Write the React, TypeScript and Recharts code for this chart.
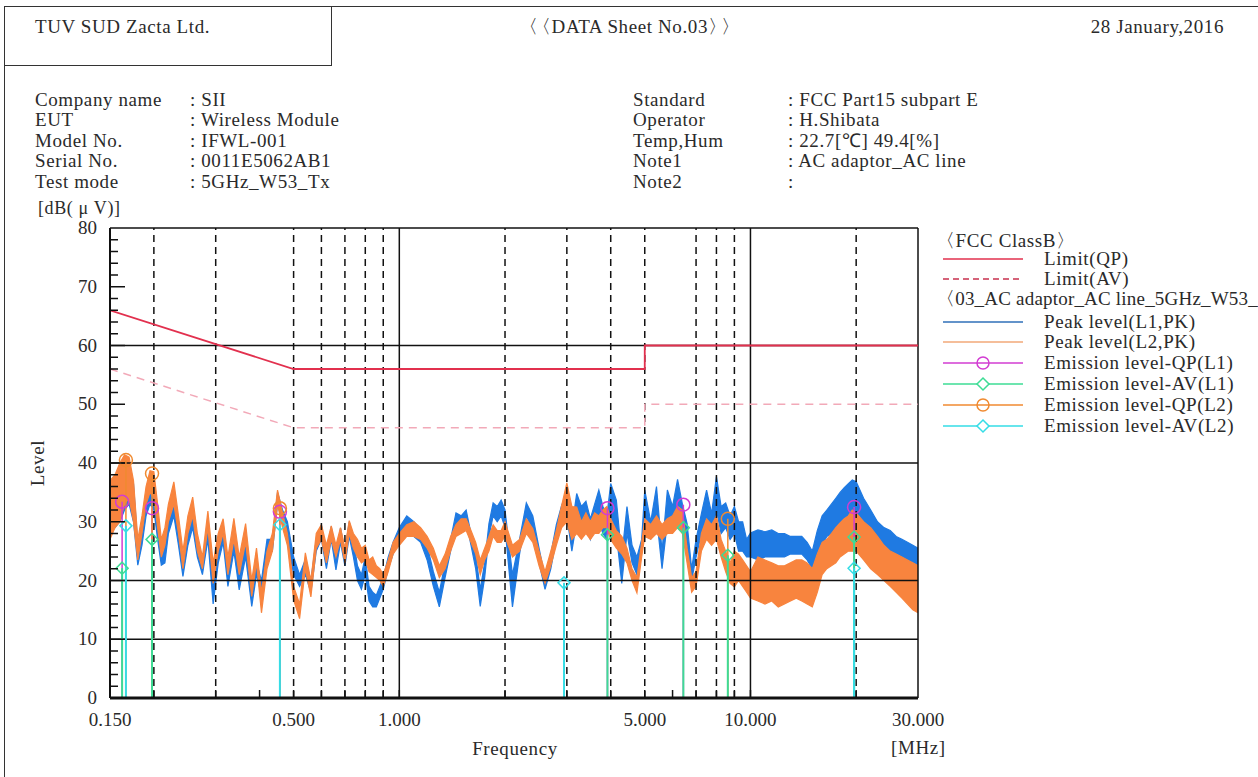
import React from "react"
import { Area, ComposedChart, Line, ReferenceLine, Scatter, XAxis, YAxis } from "recharts"

// spectrum sweep (MHz) and band envelopes, dB(uV)
const freqs = [
  0.15, 0.155, 0.16, 0.165, 0.17, 0.175, 0.18, 0.185, 0.19, 0.195,
  0.2, 0.205, 0.21, 0.215, 0.22, 0.228, 0.235, 0.242, 0.25, 0.258,
  0.266, 0.275, 0.285, 0.295, 0.305, 0.315, 0.325, 0.338, 0.35, 0.365,
  0.38, 0.392, 0.405, 0.42, 0.435, 0.45, 0.465, 0.48, 0.5, 0.52,
  0.54, 0.56, 0.58, 0.6, 0.62, 0.64, 0.66, 0.68, 0.7, 0.72,
  0.74, 0.76, 0.78, 0.8, 0.82, 0.84, 0.86, 0.88, 0.9, 0.93,
  0.96, 1.0, 1.05, 1.1, 1.15, 1.2, 1.25, 1.3, 1.35, 1.4,
  1.45, 1.5, 1.55, 1.6, 1.65, 1.7, 1.75, 1.8, 1.85, 1.9,
  1.95, 2.0, 2.1, 2.2, 2.3, 2.4, 2.5, 2.6, 2.7, 2.8,
  2.9, 3.0, 3.1, 3.2, 3.3, 3.4, 3.5, 3.6, 3.7, 3.8,
  3.9, 4.0, 4.15, 4.3, 4.45, 4.6, 4.75, 4.9, 5.0, 5.2,
  5.4, 5.6, 5.8, 6.0, 6.2, 6.4, 6.6, 6.8, 7.0, 7.25,
  7.5, 7.75, 8.0, 8.25, 8.5, 8.75, 9.0, 9.25, 9.5, 9.75,
  10, 10.5, 11, 11.5, 12, 12.5, 13, 13.5, 14, 14.5,
  15, 15.5, 16, 16.5, 17, 17.5, 18, 18.5, 19, 19.5,
  20, 21, 22, 23, 24, 25, 26, 27, 28, 29,
  30,
]

const peakL1Lo = [
  28, 29, 30, 32, 33, 30, 22.6, 26, 31, 33,
  32, 27, 22.6, 23, 28, 31, 26, 20.7, 26, 29,
  24, 21, 27, 16, 23, 26.5, 19, 25, 18.4, 24,
  15.6, 21, 17.5, 25, 25, 33, 30, 27, 21, 19,
  21, 18, 25, 27, 22, 27, 21.8, 26.5, 22.5, 27.5,
  24, 20, 18.5, 21, 16.5, 15.5, 15.5, 17, 18.5, 22,
  24.5, 27, 28.5, 27.5, 26.5, 23.5, 19, 15.5, 20.5, 25,
  29.5, 29, 30, 26, 22, 15.6, 20.5, 27.5, 31, 30,
  31, 29, 15.5, 24.5, 31, 28.5, 23, 18.5, 22, 27,
  30, 31, 25, 30, 28, 30, 27, 29, 30, 28,
  27, 30, 28, 19.5, 28, 23, 21, 25, 31, 27,
  31, 22, 30, 29, 32, 29, 26, 20, 24, 28,
  31, 28, 32, 28, 29, 27, 28, 25, 25, 24,
  24, 23.5, 24, 24, 24, 24, 24.5, 24.5, 24.5, 23.5,
  22, 24, 26, 27.5, 28, 29, 30, 30.5, 31, 31,
  31, 29.5, 28, 27, 26, 25, 24.5, 24, 23.5, 23,
  22.5,
]
const peakL1Hi = [
  34, 35, 36, 38, 38.5, 36.5, 26, 29, 34, 35.5,
  36, 31, 25, 26, 30.5, 33.7, 29, 23, 29, 31.5,
  26, 23, 30, 19, 25.5, 28.5, 22, 27.5, 21, 26.5,
  18, 23, 20, 27, 27, 35, 32, 30, 24, 21,
  23.6, 20, 27, 29.4, 24, 29.2, 24, 28.9, 25, 30,
  27, 22.5, 21, 24, 19, 18, 17.5, 19, 20.5, 24,
  26.5, 29, 31, 30, 28.6, 26, 21.5, 18, 23, 27,
  31.5, 31, 32, 28, 24.5, 18.5, 23, 29.7, 33.2, 32.6,
  33.7, 32, 21, 27, 33.2, 31, 25.5, 20.5, 24.5, 29.5,
  32.8, 34.8, 29, 34.8, 32.6, 33.5, 30.5, 33, 35.4, 32.6,
  31, 36.5, 33.7, 24, 32.6, 26, 24, 27, 35.4, 30,
  36, 25, 35.4, 32.6, 37.2, 33, 29.7, 22, 27, 31.4,
  35.4, 31.4, 37.7, 32.6, 33.2, 31, 32.6, 30, 30, 27,
  28.1, 28.6, 28.3, 28.6, 28, 28, 27.5, 27.5, 27.5, 26.5,
  25, 28.5, 31, 32, 33, 34, 35, 35.8, 36.5, 37.1,
  36.8, 34, 32, 30, 29, 28.5, 27.5, 27, 26.5, 26,
  25.5,
]
const peakL2Lo = [
  27, 29, 30, 33, 34, 30, 23.5, 28, 33, 35,
  34, 29, 24, 26, 30, 33, 28, 22, 28, 31,
  25, 22, 29, 19.5, 25, 28, 21, 27, 21, 26.5,
  17.3, 23, 14.5, 22, 25, 33, 29, 26, 16.7, 13.5,
  22, 17.2, 25.5, 27, 23, 27, 24, 27, 23, 28,
  25.5, 24, 23, 23.5, 21.5, 21, 20.5, 20, 19, 21.5,
  24.5, 26, 27.5, 27.5, 27, 25.5, 23.5, 20.5, 22, 25,
  27.5, 28, 28.5, 26.5, 24.5, 21, 23.5, 25, 27.5, 26.5,
  26.5, 27.5, 24, 25, 28, 26.5, 22.5, 19.5, 22.5, 26,
  29, 30, 27, 28, 27, 28, 27, 28, 28, 29,
  29, 27, 25.5, 24.5, 23, 20, 17.9, 24, 27.5, 27,
  28, 27, 28, 28, 29, 28, 23, 18, 19, 25,
  27, 26, 27, 24, 21.5, 19.5, 18.9, 20, 19, 18,
  17, 16.5, 16, 16.5, 15.5, 16, 16.5, 17, 16.5, 16,
  15.5, 18, 21, 22, 22.5, 23, 24, 24.5, 25, 25,
  25, 23.5, 22, 21, 20, 19, 18, 17, 16, 15,
  14.5,
]
const peakL2Hi = [
  37, 38, 40, 41.4, 41, 37, 27, 31, 36, 38.7,
  38.5, 33, 27, 29, 33, 36.8, 31, 25, 31, 34.2,
  28, 24, 31.8, 23, 28, 30.5, 24, 30.6, 24, 29.7,
  20, 25.5, 18, 25, 28, 35.4, 31.5, 28, 19, 16,
  24.7, 20, 28, 29.5, 26, 29.3, 26, 29, 25.5, 30.2,
  28, 27, 25.5, 26, 23.5, 24, 22.5, 22, 21, 23.5,
  26.5, 28, 29.5, 30, 29, 27.5, 25.5, 22.5, 24.5, 27.5,
  29.5, 30.5, 30.5, 28.5, 26.5, 23.5, 25.5, 27.5, 29.5, 28.5,
  28.5, 30, 26, 27, 30.5, 28.8, 25, 21.5, 25, 28.5,
  32.8, 36.6, 32.6, 32.5, 30, 31.5, 30, 31.5, 31, 32,
  32.6, 30.5, 28.5, 27.5, 25.5, 22, 20.5, 26.5, 30.5, 29.5,
  31, 29.5, 30.5, 31, 32.6, 32, 25.5, 20.5, 21.5, 28,
  30.5, 29.5, 31, 27, 25, 23, 25, 24.5, 23.5, 22.5,
  21.5, 24, 23.5, 23, 22.5, 22.5, 23, 23.5, 23.5, 23,
  22, 24.5, 26.5, 27, 28, 29, 29.8, 30.5, 31, 32,
  31.5, 30, 29, 27.5, 26, 25, 24.5, 24, 23.5, 23,
  22.5,
]

// FCC class B limits
const limitQP = [
  { f: 0.15, v: 66 },
  { f: 0.5, v: 56 },
  { f: 5, v: 56 },
  { f: 5, v: 60 },
  { f: 30, v: 60 },
]
const limitAV = [
  { f: 0.15, v: 56 },
  { f: 0.5, v: 46 },
  { f: 5, v: 46 },
  { f: 5, v: 50 },
  { f: 30, v: 50 },
]

// final measurements
const qpL1 = [
  { f: 0.1624, v: 33.4 },
  { f: 0.1976, v: 32.3 },
  { f: 0.457, v: 31.7 },
  { f: 3.915, v: 32.3 },
  { f: 6.44, v: 32.9 },
  { f: 19.73, v: 32.5 },
]
const avL1 = [
  { f: 0.1624, v: 22.1 },
  { f: 0.1976, v: 27.0 },
  { f: 3.915, v: 27.8 },
  { f: 6.44, v: 29.0 },
  { f: 8.62, v: 24.3 },
  { f: 19.73, v: 27.4 },
]
const qpL2 = [
  { f: 0.1665, v: 40.5 },
  { f: 0.1976, v: 38.2 },
  { f: 0.457, v: 32.3 },
  { f: 8.62, v: 30.5 },
]
const avL2 = [
  { f: 0.1665, v: 29.3 },
  { f: 0.457, v: 29.5 },
  { f: 2.945, v: 19.6 },
  { f: 19.73, v: 22.1 },
]

const xTicks = [0.15, 0.2, 0.3, 0.4, 0.5, 0.6, 0.7, 0.8, 0.9, 1, 2, 3, 4, 5, 6, 7, 8, 9, 10, 20, 30]
const xLabels = [0.15, 0.5, 1, 5, 10, 30]
const yTicks = [
  0, 2, 4, 6, 8, 10, 12, 14, 16, 18, 20, 22, 24, 26, 28, 30, 32, 34, 36, 38, 40,
  42, 44, 46, 48, 50, 52, 54, 56, 58, 60, 62, 64, 66, 68, 70, 72, 74, 76, 78, 80,
]
const gridSolidY = [10, 20, 40, 60]
const gridSolidX = [1, 10]
const gridDashedX = [0.2, 0.3, 0.5, 0.6, 0.7, 0.8, 0.9, 2, 3, 4, 5, 7, 8, 9, 20]

const infoLeft = [
  ["Company name", ": SII"],
  ["EUT", ": Wireless Module"],
  ["Model No.", ": IFWL-001"],
  ["Serial No.", ": 0011E5062AB1"],
  ["Test mode", ": 5GHz_W53_Tx"],
]
const infoRight = [
  ["Standard", ": FCC Part15 subpart E"],
  ["Operator", ": H.Shibata"],
  ["Temp,Hum", ": 22.7[℃] 49.4[%]"],
  ["Note1", ": AC adaptor_AC line"],
  ["Note2", ":"],
]

const SERIF = '"Liberation Serif", "Times New Roman", serif'
const INK = "#2a2a2a"
const BLUE = "#1f7ae2"
const ORANGE = "#f8843e"
const RED = "#e2304e"
const PINK = "#f2a9b8"
const MAGENTA = "#d23cd2"
const GREEN = "#3ddc95"
const QPORANGE = "#f08a30"
const CYAN = "#35dde6"

const traceData = freqs.map((f, i) => ({
  f,
  l1: [peakL1Lo[i], peakL1Hi[i]],
  l2: [peakL2Lo[i], peakL2Hi[i]],
}))

const YTick = (props: any) => {
  const { x, y, payload } = props
  const v = payload.value
  const major = v % 10 === 0
  return (
    <g>
      {v > 0 && v < 80 && (
        <line x1={x} x2={x + (major ? 15 : 8)} y1={y} y2={y} stroke="#111" strokeWidth={1.5} />
      )}
      {major && (
        <text x={x - 13} y={y} dy={6} textAnchor="end" fontSize={19} fontFamily={SERIF} fill={INK}>
          {v}
        </text>
      )}
    </g>
  )
}

const XTick = (props: any) => {
  const { x, y, payload } = props
  const v = payload.value
  return (
    <g>
      {v > 0.15 && v < 30 && <line x1={x} x2={x} y1={y} y2={y - 8} stroke="#111" strokeWidth={1.5} />}
      {xLabels.includes(v) && (
        <text x={x} y={y + 28} textAnchor="middle" fontSize={19} fontFamily={SERIF} fill={INK}>
          {v.toFixed(3)}
        </text>
      )}
    </g>
  )
}

const ring = (color: string) => (p: any) =>
  <circle cx={p.cx} cy={p.cy} r={6.5} fill="none" stroke={color} strokeWidth={1.5} />
const diamond = (color: string) => (p: any) =>
  <path
    d={`M${p.cx},${p.cy - 6}L${p.cx + 6},${p.cy}L${p.cx},${p.cy + 6}L${p.cx - 6},${p.cy}Z`}
    fill="none"
    stroke={color}
    strokeWidth={1.5}
  />

const legendRows = [
  { y: 259, color: RED, dash: false, mark: "", text: "Limit(QP)" },
  { y: 279, color: "#c8304e", dash: true, mark: "", text: "Limit(AV)" },
  { y: 322, color: "#2f6fb8", dash: false, mark: "", text: "Peak level(L1,PK)" },
  { y: 342, color: "#f2a878", dash: false, mark: "", text: "Peak level(L2,PK)" },
  { y: 363, color: MAGENTA, dash: false, mark: "o", text: "Emission level-QP(L1)" },
  { y: 384, color: GREEN, dash: false, mark: "d", text: "Emission level-AV(L1)" },
  { y: 405, color: QPORANGE, dash: false, mark: "o", text: "Emission level-QP(L2)" },
  { y: 426, color: CYAN, dash: false, mark: "d", text: "Emission level-AV(L2)" },
]

const txt: React.CSSProperties = {
  position: "absolute",
  fontFamily: SERIF,
  fontSize: 19,
  lineHeight: "18px",
  color: INK,
  letterSpacing: 0.6,
  whiteSpace: "nowrap",
}
const tight: React.CSSProperties = { letterSpacing: -6 }

export default function App() {
  return (
    <div style={{ position: "absolute", left: 0, top: 0, width: 1258, height: 777, background: "#fff", overflow: "hidden" }}>
      {/* sheet frame */}
      <div style={{ position: "absolute", left: 4, top: 6, width: 1254, borderTop: "1.5px solid #333" }} />
      <div style={{ position: "absolute", left: 4, top: 6, height: 771, borderLeft: "1.5px solid #333" }} />
      <div style={{ position: "absolute", left: 4, top: 6, width: 326, height: 58, border: "1.5px solid #333" }} />

      <div style={{ ...txt, left: 35, top: 18 }}>TUV SUD Zacta Ltd.</div>
      <div style={{ ...txt, left: 519, top: 18 }}>
        <span style={tight}>〈</span>〈DATA Sheet No.03<span style={tight}>〉</span>〉
      </div>
      <div style={{ ...txt, right: 34, top: 18 }}>28 January,2016</div>

      {infoLeft.map(([k, v], i) => (
        <React.Fragment key={k}>
          <div style={{ ...txt, left: 35, top: 91 + i * 20.4 }}>{k}</div>
          <div style={{ ...txt, left: 190, top: 91 + i * 20.4 }}>{v}</div>
        </React.Fragment>
      ))}
      {infoRight.map(([k, v], i) => (
        <React.Fragment key={k}>
          <div style={{ ...txt, left: 633, top: 91 + i * 20.4 }}>{k}</div>
          <div style={{ ...txt, left: 788, top: 91 + i * 20.4 }}>{v}</div>
        </React.Fragment>
      ))}

      <div style={{ ...txt, left: 38, top: 199, fontSize: 18 }}>[dB( μ V)]</div>
      <div style={{ ...txt, left: 38, top: 463, transform: "translate(-50%, -50%) rotate(-90deg)" }}>Level</div>
      <div style={{ ...txt, left: 515, top: 740, transform: "translateX(-50%)" }}>Frequency</div>
      <div style={{ ...txt, left: 891, top: 739 }}>[MHz]</div>

      <div style={{ position: "absolute", left: 0, top: 0 }}>
        <ComposedChart
          width={1258}
          height={777}
          data={traceData}
          margin={{ top: 228, right: 340, bottom: 49, left: 60 }}
        >
          <XAxis
            dataKey="f"
            type="number"
            scale="log"
            domain={[0.15, 30]}
            allowDataOverflow
            ticks={xTicks}
            interval={0}
            tick={<XTick />}
            tickLine={false}
            tickSize={0}
            tickMargin={0}
            height={30}
            axisLine={{ stroke: "#111", strokeWidth: 3 }}
          />
          <YAxis
            type="number"
            domain={[0, 80]}
            allowDataOverflow
            ticks={yTicks}
            interval={0}
            tick={<YTick />}
            tickLine={false}
            tickSize={0}
            tickMargin={0}
            width={50}
            axisLine={{ stroke: "#111", strokeWidth: 2 }}
          />

          <Area
            dataKey="l1"
            type="linear"
            stroke={BLUE}
            strokeWidth={1.2}
            fill={BLUE}
            fillOpacity={1}
            dot={false}
            activeDot={false}
            isAnimationActive={false}
          />
          <Area
            dataKey="l2"
            type="linear"
            stroke={ORANGE}
            strokeWidth={1.2}
            fill={ORANGE}
            fillOpacity={1}
            dot={false}
            activeDot={false}
            isAnimationActive={false}
          />

          {gridSolidY.map((v) => (
            <ReferenceLine key={"gy" + v} y={v} stroke="#111" strokeWidth={1.5} />
          ))}
          {gridSolidX.map((v) => (
            <ReferenceLine key={"gx" + v} x={v} stroke="#111" strokeWidth={1.5} />
          ))}
          {gridDashedX.map((v) => (
            <ReferenceLine key={"gd" + v} x={v} stroke="#111" strokeWidth={1.5} strokeDasharray="7 5" />
          ))}
          <ReferenceLine y={80} stroke="#111" strokeWidth={1.5} />
          <ReferenceLine x={30} stroke="#111" strokeWidth={1.5} />

          {qpL1.map((p) => (
            <ReferenceLine key={"s1" + p.f} segment={[{ x: p.f, y: 0 }, { x: p.f, y: p.v }]} stroke={MAGENTA} strokeWidth={1.5} />
          ))}
          {qpL2.map((p) => (
            <ReferenceLine key={"s2" + p.f} segment={[{ x: p.f, y: 0 }, { x: p.f, y: p.v }]} stroke={QPORANGE} strokeWidth={1.5} />
          ))}
          {avL1.map((p) => (
            <ReferenceLine key={"s3" + p.f} segment={[{ x: p.f, y: 0 }, { x: p.f, y: p.v }]} stroke={GREEN} strokeWidth={2} />
          ))}
          {avL2.map((p) => (
            <ReferenceLine key={"s4" + p.f} segment={[{ x: p.f, y: 0 }, { x: p.f, y: p.v }]} stroke={CYAN} strokeWidth={2} />
          ))}

          <Line data={limitAV} dataKey="v" type="linear" stroke={PINK} strokeWidth={1.5} strokeDasharray="8 6" dot={false} activeDot={false} isAnimationActive={false} />
          <Line data={limitQP} dataKey="v" type="linear" stroke={RED} strokeWidth={1.8} dot={false} activeDot={false} isAnimationActive={false} />

          <Scatter data={qpL1} dataKey="v" shape={ring(MAGENTA)} isAnimationActive={false} />
          <Scatter data={avL1} dataKey="v" shape={diamond(GREEN)} isAnimationActive={false} />
          <Scatter data={qpL2} dataKey="v" shape={ring(QPORANGE)} isAnimationActive={false} />
          <Scatter data={avL2} dataKey="v" shape={diamond(CYAN)} isAnimationActive={false} />
        </ComposedChart>
      </div>

      {/* legend */}
      <div style={{ ...txt, left: 936, top: 232 }}>
        〈FCC ClassB〉
      </div>
      <div style={{ ...txt, left: 936, top: 290, letterSpacing: 0.2 }}>
        〈03_AC adaptor_AC line_5GHz_W53_
      </div>
      {legendRows.map((r) => (
        <React.Fragment key={r.text}>
          <svg style={{ position: "absolute", left: 941, top: r.y - 8 }} width={84} height={16}>
            <line x1={2} x2={82} y1={8} y2={8} stroke={r.color} strokeWidth={1.5} strokeDasharray={r.dash ? "6 4" : undefined} />
            {r.mark === "o" && <circle cx={42} cy={8} r={6} fill="none" stroke={r.color} strokeWidth={1.5} />}
            {r.mark === "d" && <path d="M42,2L48,8L42,14L36,8Z" fill="#fff" stroke={r.color} strokeWidth={1.5} />}
          </svg>
          <div style={{ ...txt, left: 1044, top: r.y - 9 }}>{r.text}</div>
        </React.Fragment>
      ))}
    </div>
  )
}
